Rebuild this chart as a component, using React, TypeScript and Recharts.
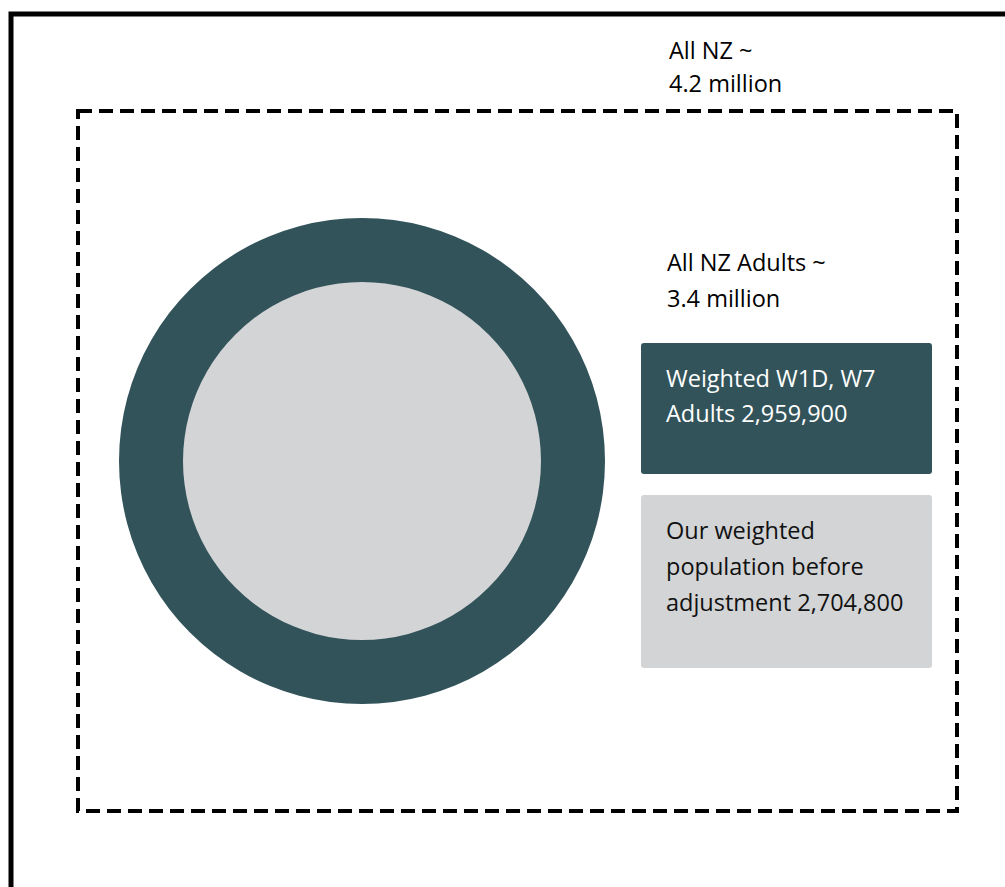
import React from 'react';
import { PieChart, Pie, Cell, Customized } from 'recharts';

// population groups shown in the diagram
const allNzLines = ['All NZ ~', '4.2 million'];
const adultLines = ['All NZ Adults ~', '3.4 million'];
const weightedLines = ['Weighted W1D, W7', 'Adults 2,959,900'];
const beforeLines = ['Our weighted', 'population before', 'adjustment 2,704,800'];

const outerRing = [{ name: 'Weighted W1D, W7 Adults', value: 2959900 }];
const innerDisc = [{ name: 'Our weighted population before adjustment', value: 2704800 }];

const DARK = '#32535A';
const LIGHT = '#D3D4D6';
const FONT = '"Open Sans", "Noto Sans", sans-serif';

const TextBlock = ({ x, y, lines, fill = '#000', lh = 35 }: { x: number; y: number; lines: string[]; fill?: string; lh?: number }) => (
    <text x={x} y={y} fill={fill} fontFamily={FONT} fontSize={23.5}>
        {lines.map((l, i) => (
            <tspan key={l} x={x} dy={i === 0 ? 0 : lh}>{l}</tspan>
        ))}
    </text>
);

const Overlay = () => (
    <g>
        <rect x={11} y={14} width={1100} height={1000} fill="none" stroke="#000" strokeWidth={5} />
        <rect x={78} y={111} width={879} height={700} fill="none" stroke="#000" strokeWidth={4} strokeDasharray="14 7" />
        <TextBlock x={669} y={59} lines={allNzLines} lh={33} />
        <TextBlock x={667} y={271} lines={adultLines} lh={36} />
        <rect x={641} y={343} width={291} height={131} rx={3} fill={DARK} />
        <TextBlock x={666} y={387} lines={weightedLines} fill="#fff" lh={35} />
        <rect x={641} y={495} width={291} height={173} rx={3} fill={LIGHT} />
        <TextBlock x={666} y={539} lines={beforeLines} fill="#111" lh={36} />
    </g>
);

export default function App() {
    return (
        <div style={{ position: 'absolute', top: 0, left: 0, width: 1005, height: 887, background: '#fff', overflow: 'hidden' }}>
            <PieChart width={1005} height={887} margin={{ top: 0, right: 0, bottom: 0, left: 0 }}>
                <Customized component={Overlay} />
                <Pie
                    data={outerRing}
                    dataKey="value"
                    nameKey="name"
                    cx={362}
                    cy={461}
                    innerRadius={178}
                    outerRadius={243}
                    startAngle={90}
                    endAngle={-270}
                    stroke="none"
                    isAnimationActive={false}
                >
                    <Cell fill={DARK} />
                </Pie>
                <Pie
                    data={innerDisc}
                    dataKey="value"
                    nameKey="name"
                    cx={362}
                    cy={461}
                    innerRadius={0}
                    outerRadius={179}
                    startAngle={90}
                    endAngle={-270}
                    stroke="none"
                    isAnimationActive={false}
                >
                    <Cell fill={LIGHT} />
                </Pie>
            </PieChart>
        </div>
    );
}
